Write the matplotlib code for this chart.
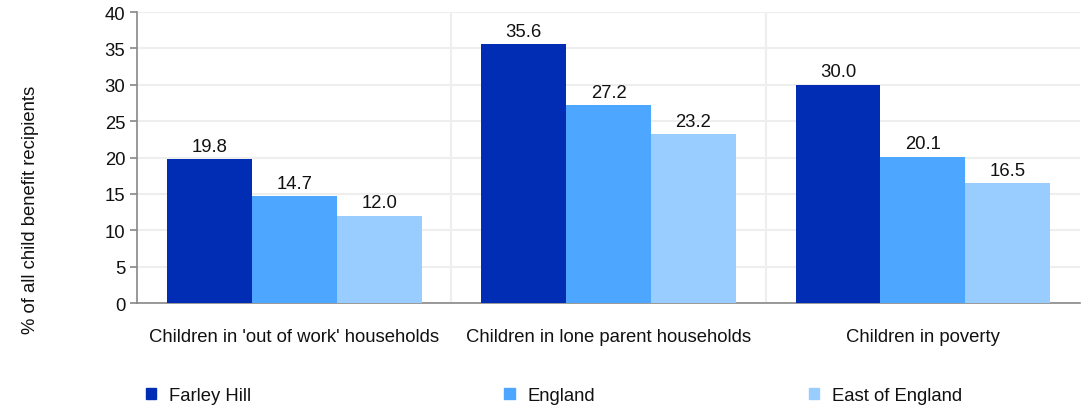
import matplotlib
matplotlib.use("Agg")
import matplotlib.pyplot as plt
import matplotlib.patches as mpatches
import numpy as np

plt.rcParams['font.family'] = ['Liberation Sans', 'DejaVu Sans']

categories = ["Children in 'out of work' households",
              "Children in lone parent households",
              "Children in poverty"]
series_names = ["Farley Hill", "England", "East of England"]
farley_hill = [19.8, 35.6, 30.0]
england = [14.7, 27.2, 20.1]
east_of_england = [12.0, 23.2, 16.5]
colors = ["#002db3", "#4da6ff", "#99ccff"]

fs = 13.3
fig = plt.figure(figsize=(10.84, 4.10), dpi=100)
ax = fig.add_axes([0.1264, 0.2585, 0.8700, 0.7095])

x = np.arange(len(categories))
width = 0.27
for i, (vals, name) in enumerate(zip([farley_hill, england, east_of_england], series_names)):
    pos = x + (i - 1) * width
    ax.bar(pos, vals, width, color=colors[i], label=name, zorder=3)
    for p, v in zip(pos, vals):
        ax.text(p, v + 0.6, f"{v:.1f}", ha='center', va='bottom', fontsize=fs, color='#111111')

ax.set_xlim(-0.5, 2.5)
ax.set_ylim(0, 40)
ax.set_yticks(range(0, 41, 5))
ax.set_xticks(x)
ax.set_xticklabels(categories, fontsize=fs, color='#111111')
ax.tick_params(axis='x', length=0, pad=18)
ax.tick_params(axis='y', labelsize=fs, colors='#888888', labelcolor='#111111', length=5, width=1.2)
for b in [0.5, 1.5]:
    ax.axvline(b, color='#eeeeee', lw=1.5, zorder=0)
ax.grid(axis='y', color='#eeeeee', lw=1.5, zorder=0)
for s in ['top', 'right']:
    ax.spines[s].set_visible(False)
ax.spines['left'].set_color('#888888')
ax.spines['bottom'].set_color('#888888')
ax.spines['left'].set_linewidth(1.2)
ax.spines['bottom'].set_linewidth(1.2)

fig.text(0.0277, 0.488, "% of all child benefit recipients", rotation=90,
         ha='center', va='center', fontsize=fs, color='#111111')

leg_x = [0.128, 0.4585, 0.7395]
for lx, name, c in zip(leg_x, series_names, colors):
    h = mpatches.Patch(color=c, label=name)
    leg = fig.legend(handles=[h], loc='center left', bbox_to_anchor=(lx, 0.032),
                     frameon=False, fontsize=fs, handlelength=0.55, handleheight=0.55,
                     handletextpad=0.7, borderaxespad=0)
    for t in leg.get_texts():
        t.set_color('#111111')

fig.savefig("out.png", dpi=100)
